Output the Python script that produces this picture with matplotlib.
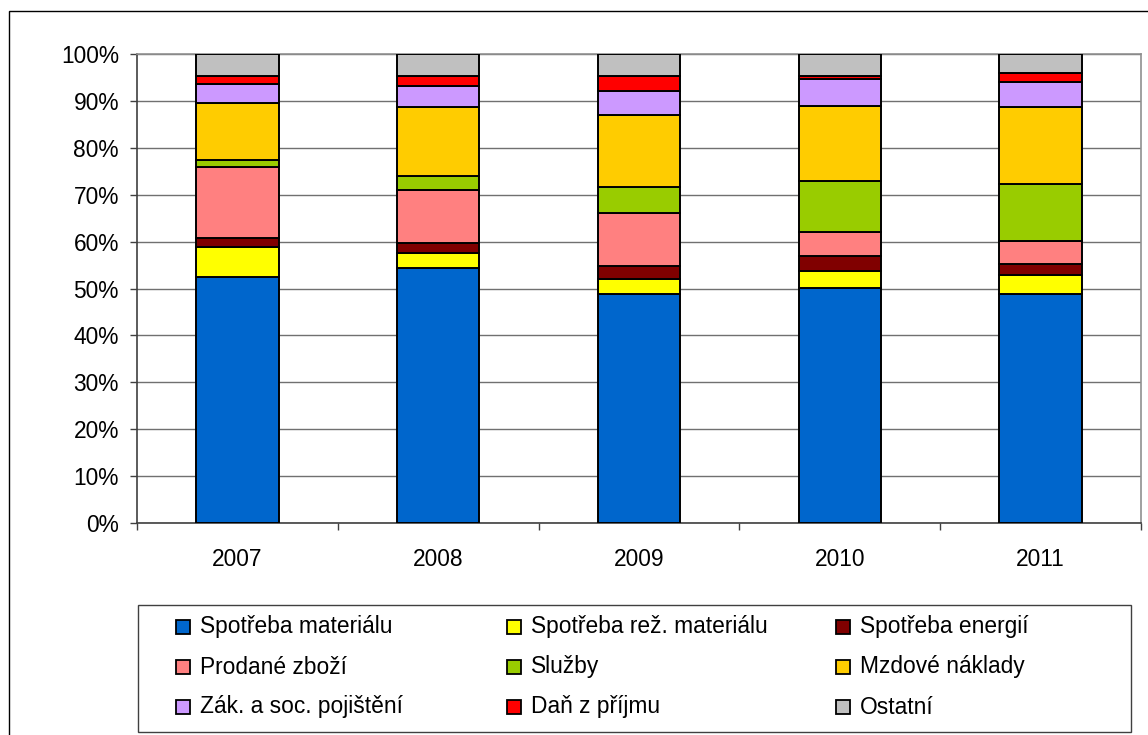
import matplotlib
matplotlib.use("Agg")
import matplotlib.pyplot as plt
from matplotlib.patches import Rectangle
from matplotlib.ticker import FuncFormatter, FixedLocator
import numpy as np

plt.rcParams["font.family"] = ["Liberation Sans", "DejaVu Sans"]

years = ["2007", "2008", "2009", "2010", "2011"]

series_names = [
    "Spotřeba materiálu", "Spotřeba rež. materiálu", "Spotřeba energií",
    "Prodané zboží", "Služby", "Mzdové náklady",
    "Zák. a soc. pojištění", "Daň z příjmu", "Ostatní",
]

# podíly v % pro jednotlivé roky
spotreba_materialu = [52.4, 54.3, 48.8, 50.2, 48.8]
spotreba_rez_materialu = [6.4, 3.2, 3.2, 3.6, 4.1]
spotreba_energii = [1.9, 2.3, 2.8, 3.2, 2.3]
prodane_zbozi = [15.1, 11.3, 11.4, 5.0, 5.0]
sluzby = [1.7, 2.9, 5.4, 11.0, 12.0]
mzdove_naklady = [12.0, 14.6, 15.5, 16.0, 16.4]
zak_soc_pojisteni = [4.0, 4.6, 5.1, 5.6, 5.5]
dan_z_prijmu = [1.9, 2.2, 3.2, 0.8, 1.8]
ostatni = [4.6, 4.6, 4.6, 4.6, 4.1]

colors = ["#0066CC", "#FFFF00", "#800000", "#FF8080", "#99CC00",
          "#FFCC00", "#CC99FF", "#FF0000", "#C0C0C0"]

data = [spotreba_materialu, spotreba_rez_materialu, spotreba_energii,
        prodane_zbozi, sluzby, mzdove_naklady, zak_soc_pojisteni,
        dan_z_prijmu, ostatni]

W, H = 1148, 735
FS = 16.4
fig = plt.figure(figsize=(W / 100, H / 100), dpi=100)
fig.patch.set_facecolor("white")

# vnější rámeček grafu
fig.patches.append(Rectangle((8.5 / W, -0.02), 1.05, 1.02 - 10.5 / H,
                             transform=fig.transFigure, fill=False,
                             edgecolor="black", linewidth=1.0))

ax = fig.add_axes([137 / W, (H - 523) / H, (1141 - 137) / W, (523 - 54) / H])

x = np.arange(len(years))
arr = np.array(data)
totals = arr.sum(axis=0)
bottom = np.zeros(len(years))
for vals, col, name in zip(arr, colors, series_names):
    pct = vals / totals * 100
    ax.bar(x, pct, width=0.41, bottom=bottom, color=col,
           edgecolor="black", linewidth=1.4, label=name, zorder=3)
    bottom += pct

ax.set_xlim(-0.5, len(years) - 0.5)
ax.set_ylim(0, 100)
ax.set_yticks(np.arange(0, 101, 10))
ax.yaxis.set_major_formatter(FuncFormatter(lambda v, p: f"{v:.0f}%"))
ax.set_xticks(x)
ax.set_xticklabels(years)
ax.xaxis.set_minor_locator(FixedLocator(np.arange(-0.5, len(years), 1.0)))

ax.tick_params(axis="y", labelsize=FS, length=5, width=1, pad=8, color="#404040")
ax.tick_params(axis="x", which="major", labelsize=FS, length=0, pad=18)
ax.tick_params(axis="x", which="minor", length=5, width=1, color="#404040")

ax.grid(axis="y", color="#707070", linewidth=1.0, zorder=0)
ax.set_axisbelow(True)

ax.spines["left"].set_color("#404040")
ax.spines["bottom"].set_color("#404040")
ax.spines["top"].set_color("#909090")
ax.spines["right"].set_color("#909090")
for s in ax.spines.values():
    s.set_linewidth(1.2)

# legenda ve stylu Excelu - rovnoměrné sloupce
fig.patches.append(Rectangle((138 / W, (H - 732) / H), (1131 - 138) / W,
                             (732 - 605) / H, transform=fig.transFigure,
                             fill=False, edgecolor="#404040", linewidth=1.0))
col_x = [176, 507, 836]
row_y = [627, 667, 707]
for i, (name, col) in enumerate(zip(series_names, colors)):
    r, c = divmod(i, 3)
    mx, my = col_x[c], row_y[r]
    fig.patches.append(Rectangle((mx / W, (H - my - 7) / H), 14 / W, 14 / H,
                                 transform=fig.transFigure, facecolor=col,
                                 edgecolor="black", linewidth=1.3))
    fig.text((mx + 24) / W, (H - my) / H, name, fontsize=FS,
             va="center", ha="left")

fig.savefig("out.png", dpi=100)
